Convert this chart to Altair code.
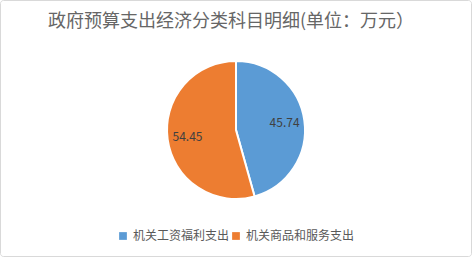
import altair as alt
import pandas as pd

categories = ["机关工资福利支出", "机关商品和服务支出"]
values = [45.74, 54.45]
colors = ["#5B9BD5", "#ED7D31"]
title_text = "政府预算支出经济分类科目明细(单位：万元）"

df = pd.DataFrame({"category": categories, "value": values, "order": [0, 1]})
FONT = "Noto Sans CJK SC"

base = alt.Chart(df)

frame = alt.Chart(pd.DataFrame({"a": [0]})).mark_rect(
    fill="white", stroke="#d9d9d9", strokeWidth=1, cornerRadius=3
).encode(x=alt.value(0.5), x2=alt.value(471.5), y=alt.value(0.5), y2=alt.value(256.5))

pie = base.mark_arc(outerRadius=69, stroke="white", strokeWidth=2).encode(
    theta=alt.Theta("value:Q", stack=True),
    order=alt.Order("order:Q"),
    color=alt.Color(
        "category:N",
        scale=alt.Scale(domain=categories, range=colors),
        sort=categories,
        legend=alt.Legend(
            title=None,
            orient="none",
            legendX=117,
            legendY=230,
            direction="horizontal",
            symbolType="square",
            symbolSize=60,
            symbolStrokeWidth=0,
            labelFontSize=12,
            labelFont=FONT,
            labelColor="#595959",
            columnPadding=0,
            labelOffset=4,
        ),
    ),
    x=alt.value(236),
    y=alt.value(130),
)

labels = base.mark_text(radius=49, fontSize=12, font=FONT, color="#404040").encode(
    theta=alt.Theta("value:Q", stack=True),
    order=alt.Order("order:Q"),
    text=alt.Text("value:Q", format=".2f"),
    x=alt.value(236),
    y=alt.value(130),
)

title = alt.Chart(pd.DataFrame({"t": [title_text]})).mark_text(
    fontSize=18, font=FONT, color="#666666", align="center", baseline="middle"
).encode(text="t:N", x=alt.value(231), y=alt.value(22))

chart = alt.layer(frame, pie, labels, title).properties(
    width=472, height=257, autosize=alt.AutoSizeParams(type="none"), padding=0
).configure_view(stroke=None)

chart.save("out.html", embed_options={"renderer": "svg", "actions": False})
